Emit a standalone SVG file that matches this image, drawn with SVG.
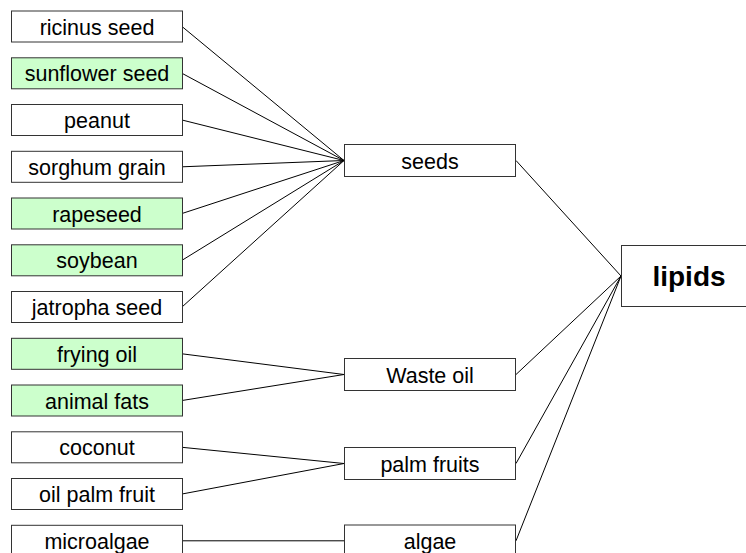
<svg xmlns="http://www.w3.org/2000/svg" width="746" height="553" viewBox="0 0 746 553">
<style>
.box{fill:#ffffff;stroke:#333333;stroke-width:1}
.g{fill:#ccffcc}
.t{font-family:"Liberation Sans",Arial,sans-serif;font-size:21.5px;fill:#000;text-anchor:middle}
.b{font-family:"Liberation Sans",Arial,sans-serif;font-size:28px;font-weight:bold;fill:#000;text-anchor:middle}
.c{stroke:#000;stroke-width:1;fill:none}
</style>
<rect width="746" height="553" fill="#ffffff"/>
<g id="connectors">
<line class="c" x1="182" y1="26.5" x2="344" y2="160.5"/>
<line class="c" x1="182" y1="73.3" x2="344" y2="160.5"/>
<line class="c" x1="182" y1="120" x2="344" y2="160.5"/>
<line class="c" x1="182" y1="166.8" x2="344" y2="160.5"/>
<line class="c" x1="182" y1="213.5" x2="344" y2="160.5"/>
<line class="c" x1="182" y1="260.3" x2="344" y2="160.5"/>
<line class="c" x1="182" y1="307" x2="344" y2="160.5"/>
<line class="c" x1="182" y1="353.8" x2="344" y2="374.5"/>
<line class="c" x1="182" y1="400.5" x2="344" y2="374.5"/>
<line class="c" x1="182" y1="447.3" x2="344" y2="463.5"/>
<line class="c" x1="182" y1="494" x2="344" y2="463.5"/>
<line class="c" x1="182" y1="540.8" x2="344" y2="540.8"/>
<line class="c" x1="516" y1="160.5" x2="621" y2="276"/>
<line class="c" x1="516" y1="374.5" x2="621" y2="276"/>
<line class="c" x1="516" y1="463.5" x2="621" y2="276"/>
<line class="c" x1="516" y1="540.8" x2="621" y2="276"/>
</g>
<g id="ricinus"><rect class="box" x="11.5" y="11" width="171" height="31"/><text class="t" x="97" y="34.5">ricinus seed</text></g>
<g id="sunflower"><rect class="box g" x="11.5" y="57.8" width="171" height="31"/><text class="t" x="97" y="81.3">sunflower seed</text></g>
<g id="peanut"><rect class="box" x="11.5" y="104.5" width="171" height="31"/><text class="t" x="97" y="128">peanut</text></g>
<g id="sorghum"><rect class="box" x="11.5" y="151.3" width="171" height="31"/><text class="t" x="97" y="174.8">sorghum grain</text></g>
<g id="rapeseed"><rect class="box g" x="11.5" y="198" width="171" height="31"/><text class="t" x="97" y="221.5">rapeseed</text></g>
<g id="soybean"><rect class="box g" x="11.5" y="244.8" width="171" height="31"/><text class="t" x="97" y="268.3">soybean</text></g>
<g id="jatropha"><rect class="box" x="11.5" y="291.5" width="171" height="31"/><text class="t" x="97" y="315">jatropha seed</text></g>
<g id="frying"><rect class="box g" x="11.5" y="338.3" width="171" height="31"/><text class="t" x="97" y="361.8">frying oil</text></g>
<g id="animal"><rect class="box g" x="11.5" y="385" width="171" height="31"/><text class="t" x="97" y="408.5">animal fats</text></g>
<g id="coconut"><rect class="box" x="11.5" y="431.8" width="171" height="31"/><text class="t" x="97" y="455.3">coconut</text></g>
<g id="oilpalm"><rect class="box" x="11.5" y="478.5" width="171" height="31"/><text class="t" x="97" y="502">oil palm fruit</text></g>
<g id="microalgae"><rect class="box" x="11.5" y="525.3" width="171" height="31"/><text class="t" x="97" y="548.5">microalgae</text></g>
<g id="seeds"><rect class="box" x="344.5" y="144.5" width="171" height="32"/><text class="t" x="430" y="168.5">seeds</text></g>
<g id="wasteoil"><rect class="box" x="344.5" y="358.5" width="171" height="32"/><text class="t" x="430" y="382.5">Waste oil</text></g>
<g id="palmfruits"><rect class="box" x="344.5" y="447.5" width="171" height="32"/><text class="t" x="430" y="471.5">palm fruits</text></g>
<g id="algae"><rect class="box" x="344.5" y="525" width="171" height="32"/><text class="t" x="430" y="548.5">algae</text></g>
<g id="lipids"><rect class="box" x="621.5" y="245.5" width="136" height="61"/><text class="b" x="689" y="285.5">lipids</text></g>
</svg>
